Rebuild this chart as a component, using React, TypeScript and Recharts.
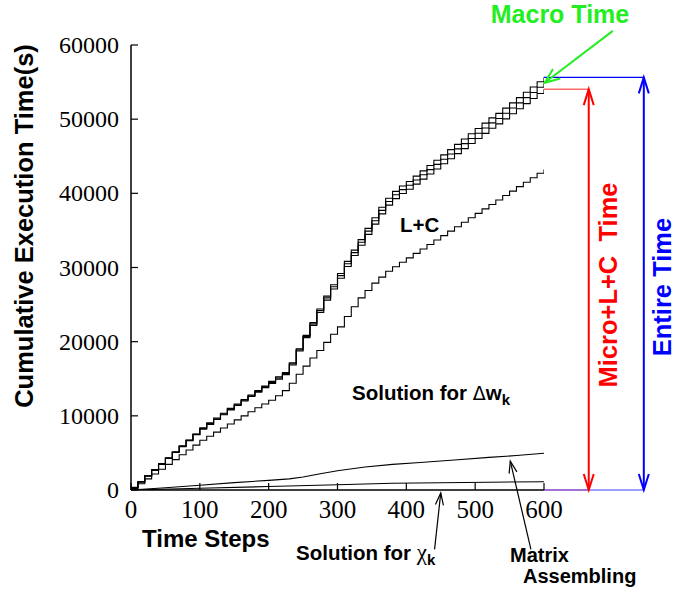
import React from 'react';
import { LineChart, Line, XAxis, YAxis, ReferenceLine, Customized } from 'recharts';

// ---------- data ----------
const steps = [
  0, 10, 20, 30, 40, 50, 60, 70, 80, 90,
  100, 110, 120, 130, 140, 150, 160, 170, 180, 190,
  200, 210, 220, 230, 240, 250, 260, 270, 280, 290,
  300, 310, 320, 330, 340, 350, 360, 370, 380, 390,
  400, 410, 420, 430, 440, 450, 460, 470, 480, 490,
  500, 510, 520, 530, 540, 550, 560, 570, 580, 590, 600,
];

// Entire time (top curve of the bundle)
const entireTime = [
  350, 1150, 1950, 2750, 3550, 4350, 5150, 5950, 6750, 7550,
  8400, 9050, 9700, 10350, 11000, 11600, 12200, 12800, 13400, 14000,
  14650, 15250, 15850, 17150, 19050, 20850, 22580, 24410, 26140, 27670,
  29200, 30820, 32340, 33760, 35280, 36700, 38120, 39340, 40260, 40980,
  41600, 42320, 43030, 43750, 44460, 45180, 45890, 46600, 47320, 48040,
  48750, 49460, 50170, 50780, 51490, 52200, 52910, 53620, 54330, 55040, 55640,
];

// Macro time curve (middle of the bundle)
const macroTime = [
  300, 1100, 1900, 2700, 3500, 4300, 5100, 5900, 6700, 7500,
  8300, 8950, 9600, 10250, 10900, 11500, 12100, 12700, 13300, 13900,
  14500, 15100, 15700, 17000, 18900, 20700, 22400, 24200, 25900, 27400,
  28900, 30500, 32000, 33400, 34900, 36300, 37700, 38900, 39800, 40500,
  41100, 41800, 42500, 43200, 43900, 44600, 45300, 46000, 46700, 47400,
  48100, 48800, 49500, 50100, 50800, 51500, 52200, 52900, 53600, 54300, 54900,
];

// Micro + L + C time (lower curve of the bundle)
const microLCTime = [
  250, 1050, 1850, 2650, 3450, 4250, 5050, 5850, 6650, 7450,
  8200, 8850, 9500, 10150, 10800, 11400, 12000, 12600, 13200, 13800,
  14350, 14950, 15550, 16850, 18750, 20550, 22200, 23950, 25600, 27100,
  28550, 30130, 31610, 32990, 34470, 35850, 37230, 38410, 39290, 39970,
  40550, 41240, 41920, 42610, 43290, 43980, 44660, 45350, 46030, 46720,
  47400, 48090, 48770, 49360, 50040, 50730, 51410, 52100, 52780, 53470, 54050,
];

// Matrix + solution for chi + solution for delta w
const solveDeltaWTime = [
  200, 850, 1500, 2150, 2800, 3450, 4100, 4750, 5400, 6050,
  6700, 7250, 7800, 8350, 8900, 9450, 10000, 10550, 11100, 11600,
  12100, 12700, 13400, 14400, 15600, 16700, 17800, 18800, 19900, 21000,
  22000, 23400, 24700, 25900, 26900, 27900, 28700, 29500, 30100, 30700,
  31300, 31900, 32500, 33100, 33700, 34300, 34900, 35500, 36100, 36700,
  37300, 37900, 38500, 39100, 39700, 40300, 40900, 41500, 42100, 42700, 43200,
];

// Matrix assembling (smooth curve)
const matrixSteps = [0, 50, 100, 150, 200, 230, 250, 275, 300, 340, 380, 420, 470, 520, 560, 600];
const matrixTime = [0, 300, 650, 1000, 1300, 1500, 1750, 2200, 2600, 3100, 3450, 3700, 4050, 4400, 4650, 4950];

// Solution for chi (lowest curve)
const chiSteps = [0, 100, 200, 300, 380, 450, 520, 600];
const chiTime = [0, 230, 470, 700, 900, 980, 1050, 1120];

const xTicks = [0, 100, 200, 300, 400, 500, 600];
const yTicks = [0, 10000, 20000, 30000, 40000, 50000, 60000];

// ---------- derived tables ----------
const bundleData = steps.map((s, i) => ({
  step: s,
  entire: entireTime[i],
  macro: macroTime[i],
  micro: microLCTime[i],
  deltaW: solveDeltaWTime[i],
}));
const matrixData = matrixSteps.map((s, i) => ({ step: s, value: matrixTime[i] }));
const chiData = chiSteps.map((s, i) => ({ step: s, value: chiTime[i] }));

const entireEnd = entireTime[entireTime.length - 1];
const macroEnd = macroTime[macroTime.length - 1];
const microEnd = microLCTime[microLCTime.length - 1];

const SANS = "'Liberation Sans', Arial, Helvetica, sans-serif";
const SERIF = "'Liberation Serif', 'Times New Roman', serif";
const TICK = 7;

// ---------- ticks ----------
const BottomTick = (props: any) => {
  const { x, y, payload } = props;
  return (
    <g>
      <line x1={x} y1={y} x2={x} y2={y - TICK} stroke="#000" strokeWidth={1.2} />
      <text x={x} y={y + 28} textAnchor="middle" fontFamily={SERIF} fontSize={25} fill="#000">
        {payload.value}
      </text>
    </g>
  );
};
const TopTick = (props: any) => {
  const { x, y } = props;
  return <line x1={x} y1={y} x2={x} y2={y + TICK} stroke="#000" strokeWidth={1.2} />;
};
const LeftTick = (props: any) => {
  const { x, y, payload } = props;
  return (
    <g>
      <line x1={x} y1={y} x2={x + TICK} y2={y} stroke="#000" strokeWidth={1.2} />
      <text x={x - 12} y={y + 8} textAnchor="end" fontFamily={SERIF} fontSize={24} fill="#000">
        {payload.value}
      </text>
    </g>
  );
};
const RightTick = (props: any) => {
  const { x, y } = props;
  return <line x1={x} y1={y} x2={x - TICK} y2={y} stroke="#000" strokeWidth={1.2} />;
};

// ---------- arrow shapes ----------
const head = (tx: number, ty: number, fx: number, fy: number, len: number, half: number, color: string, w: number, fill?: boolean) => {
  const dx = tx - fx;
  const dy = ty - fy;
  const d = Math.sqrt(dx * dx + dy * dy) || 1;
  const ux = dx / d;
  const uy = dy / d;
  const bx = tx - ux * len;
  const by = ty - uy * len;
  const px = -uy * half;
  const py = ux * half;
  const pts = `${bx + px},${by + py} ${tx},${ty} ${bx - px},${by - py}`;
  if (fill) {
    return <polygon points={pts} fill={color} stroke={color} strokeWidth={w} />;
  }
  return <polyline points={pts} fill="none" stroke={color} strokeWidth={w} />;
};

const makeArrow = (color: string, w: number, both: boolean, len: number, half: number, fill?: boolean) => (props: any) => {
  const { x1, y1, x2, y2 } = props;
  return (
    <g>
      <line x1={x1} y1={y1} x2={x2} y2={y2} stroke={color} strokeWidth={w} />
      {head(x2, y2, x1, y1, len, half, color, w, fill)}
      {both ? head(x1, y1, x2, y2, len, half, color, w, fill) : null}
    </g>
  );
};

const plainLine = (color: string, w: number) => (props: any) => {
  const { x1, y1, x2, y2 } = props;
  return <line x1={x1} y1={y1} x2={x2} y2={y2} stroke={color} strokeWidth={w} />;
};

// ---------- text annotations ----------
const Annotations = () => (
  <g>
    <text x={33} y={226} transform="rotate(-90 33 226)" textAnchor="middle" fontFamily={SANS} fontWeight="bold" fontSize={25.5} fill="#000">
      Cumulative Execution Time(s)
    </text>
    <text x={142} y={547} fontFamily={SANS} fontWeight="bold" fontSize={24} fill="#000">
      Time Steps
    </text>
    <text x={400} y={232} fontFamily={SANS} fontWeight="bold" fontSize={20.5} fill="#000">
      L+C
    </text>
    <text x={352} y={400} fontFamily={SANS} fontWeight="bold" fontSize={20.5} fill="#000">
      Solution for <tspan fontWeight="normal" fontFamily="'DejaVu Sans', sans-serif" fontSize={19}>Δ</tspan>w
      <tspan fontSize={15} dy={5}>k</tspan>
    </text>
    <text x={296} y={560} fontFamily={SANS} fontWeight="bold" fontSize={20.5} fill="#000">
      Solution for <tspan fontWeight="normal" fontFamily={SERIF} fontSize={23}>χ</tspan>
      <tspan fontSize={15} dy={5}>k</tspan>
    </text>
    <text x={510} y={562} fontFamily={SANS} fontWeight="bold" fontSize={20} fill="#000">
      Matrix
    </text>
    <text x={523} y={583} fontFamily={SANS} fontWeight="bold" fontSize={20} fill="#000">
      Assembling
    </text>
    <text x={560} y={23} textAnchor="middle" fontFamily={SANS} fontWeight="bold" fontSize={25} fill="#22ee22">
      Macro Time
    </text>
    <text x={617} y={285} transform="rotate(-90 617 285)" textAnchor="middle" fontFamily={SANS} fontWeight="bold" fontSize={25.5} fill="#ff0000" style={{ whiteSpace: 'pre' }}>
      {'Micro+L+C  Time'}
    </text>
    <text x={671} y={287} transform="rotate(-90 671 287)" textAnchor="middle" fontFamily={SANS} fontWeight="bold" fontSize={25.5} fill="#0000ff">
      Entire Time
    </text>
  </g>
);

export default function App() {
  return (
    <div style={{ position: 'absolute', left: 0, top: 0, width: 700, height: 594, background: '#fff' }}>
      <LineChart
        width={700}
        height={594}
        data={bundleData}
        margin={{ top: 45, right: 156, bottom: 74, left: 71 }}
      >
        <XAxis
          xAxisId="bottom"
          type="number"
          dataKey="step"
          domain={[0, 600]}
          ticks={xTicks}
          interval={0}
          height={30}
          tickSize={0}
          tickMargin={0}
          tickLine={false}
          tick={<BottomTick />}
          axisLine={{ stroke: '#000', strokeWidth: 1.5 }}
          allowDataOverflow
        />
        <XAxis
          xAxisId="top"
          orientation="top"
          type="number"
          dataKey="step"
          domain={[0, 600]}
          ticks={xTicks}
          interval={0}
          height={0}
          tickSize={0}
          tickMargin={0}
          tickLine={false}
          tick={<TopTick />}
          axisLine={{ stroke: '#000', strokeWidth: 1.5 }}
        />
        <YAxis
          yAxisId="left"
          type="number"
          domain={[0, 60000]}
          ticks={yTicks}
          interval={0}
          width={60}
          tickSize={0}
          tickMargin={0}
          tickLine={false}
          tick={<LeftTick />}
          axisLine={{ stroke: '#000', strokeWidth: 1.5 }}
          allowDataOverflow
        />
        <YAxis
          yAxisId="right"
          orientation="right"
          type="number"
          domain={[0, 60000]}
          ticks={yTicks}
          interval={0}
          width={0}
          tickSize={0}
          tickMargin={0}
          tickLine={false}
          tick={<RightTick />}
          axisLine={{ stroke: '#000', strokeWidth: 1.5 }}
        />

        <Line xAxisId="bottom" yAxisId="left" type="stepAfter" dataKey="entire" stroke="#000" strokeWidth={1.1} dot={false} isAnimationActive={false} />
        <Line xAxisId="bottom" yAxisId="left" type="stepAfter" dataKey="macro" stroke="#000" strokeWidth={1.1} dot={false} isAnimationActive={false} />
        <Line xAxisId="bottom" yAxisId="left" type="stepAfter" dataKey="micro" stroke="#000" strokeWidth={1.1} dot={false} isAnimationActive={false} />
        <Line xAxisId="bottom" yAxisId="left" type="stepAfter" dataKey="deltaW" stroke="#000" strokeWidth={1.1} dot={false} isAnimationActive={false} />
        <Line xAxisId="bottom" yAxisId="left" data={matrixData} type="linear" dataKey="value" stroke="#000" strokeWidth={1.1} dot={false} isAnimationActive={false} />
        <Line xAxisId="bottom" yAxisId="left" data={chiData} type="linear" dataKey="value" stroke="#000" strokeWidth={1.1} dot={false} isAnimationActive={false} />

        {/* side annotation lines */}
        <ReferenceLine xAxisId="bottom" yAxisId="left" ifOverflow="visible" segment={[{ x: 600, y: 0 }, { x: 665, y: 0 }]} shape={plainLine('#8040c8', 1.5)} />
        <ReferenceLine xAxisId="bottom" yAxisId="left" ifOverflow="visible" segment={[{ x: 665, y: 0 }, { x: 745, y: 0 }]} shape={plainLine('#7f7fff', 1.5)} />
        <ReferenceLine xAxisId="bottom" yAxisId="left" ifOverflow="visible" segment={[{ x: 600, y: entireEnd }, { x: 745, y: entireEnd }]} shape={plainLine('#0000ff', 1.2)} />
        <ReferenceLine xAxisId="bottom" yAxisId="left" ifOverflow="visible" segment={[{ x: 600, y: microEnd }, { x: 665, y: microEnd }]} shape={plainLine('#ff6a6a', 1.5)} />
        <ReferenceLine xAxisId="bottom" yAxisId="left" ifOverflow="visible" segment={[{ x: 665, y: 0 }, { x: 665, y: microEnd }]} shape={makeArrow('#ff0000', 2, true, 16, 5)} />
        <ReferenceLine xAxisId="bottom" yAxisId="left" ifOverflow="visible" segment={[{ x: 745, y: 0 }, { x: 745, y: entireEnd }]} shape={makeArrow('#0000ff', 2, true, 16, 5)} />
        <ReferenceLine xAxisId="bottom" yAxisId="left" ifOverflow="visible" segment={[{ x: 700, y: 61900 }, { x: 601, y: macroEnd }]} shape={makeArrow('#22ee22', 2, false, 15, 6)} />
        {/* pointer arrows */}
        <ReferenceLine xAxisId="bottom" yAxisId="left" ifOverflow="visible" segment={[{ x: 441, y: -8000 }, { x: 450, y: -400 }]} shape={makeArrow('#000', 1.2, false, 12, 4)} />
        <ReferenceLine xAxisId="bottom" yAxisId="left" ifOverflow="visible" segment={[{ x: 581, y: -8000 }, { x: 551, y: 3900 }]} shape={makeArrow('#000', 1.2, false, 12, 4)} />

        <Customized component={Annotations} />
      </LineChart>
    </div>
  );
}
